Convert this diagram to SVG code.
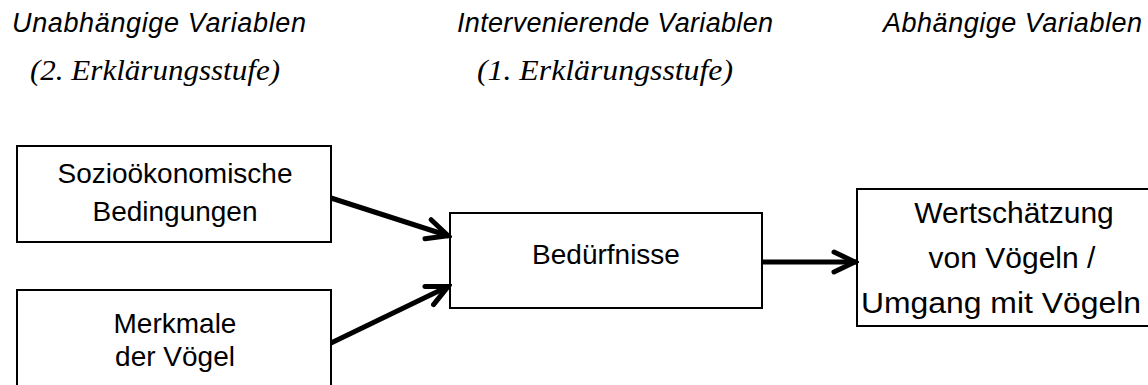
<svg xmlns="http://www.w3.org/2000/svg" width="1148" height="385" viewBox="0 0 1148 385">
<style>
.hdr{font-family:"Liberation Sans",Arial,sans-serif;font-style:italic;font-size:27px;fill:#000}
.sub{font-family:"Liberation Serif","Times New Roman",serif;font-style:italic;font-size:30px;fill:#000}
.box{fill:#fff;stroke:#000;stroke-width:2}
.lbl{font-family:"Liberation Sans",Arial,sans-serif;font-size:28px;fill:#000;text-anchor:middle}
.lbl2{font-family:"Liberation Sans",Arial,sans-serif;font-size:30px;fill:#000;text-anchor:middle}
.edge{stroke:#000;stroke-width:5;fill:none;marker-end:url(#arr)}
</style>
<defs>
<marker id="arr" markerUnits="userSpaceOnUse" viewBox="0 0 28 26" refX="25" refY="13" markerWidth="28" markerHeight="26" orient="auto">
<path d="M3,3 L24,13 L3,23" fill="none" stroke="#000" stroke-width="5" stroke-linecap="round" stroke-linejoin="miter"/>
</marker>
</defs>
<rect width="1148" height="385" fill="#fff"/>
<g id="headers">
<text class="hdr" x="12" y="32" textLength="294">Unabhängige Variablen</text>
<text class="sub" x="30" y="80" textLength="250" lengthAdjust="spacingAndGlyphs">(2. Erklärungsstufe)</text>
<text class="hdr" x="457" y="32" textLength="316">Intervenierende Variablen</text>
<text class="sub" x="477" y="80" textLength="256" lengthAdjust="spacingAndGlyphs">(1. Erklärungsstufe)</text>
<text class="hdr" x="883" y="32" textLength="259">Abhängige Variablen</text>
</g>
<g id="node-sozio">
<rect class="box" x="17" y="146" width="314" height="96"/>
<text class="lbl" x="175" y="183">Sozioökonomische</text>
<text class="lbl" x="175" y="221">Bedingungen</text>
</g>
<g id="node-merkmale">
<rect class="box" x="17" y="290" width="314" height="100"/>
<text class="lbl" x="175" y="333">Merkmale</text>
<text class="lbl" x="175" y="366">der Vögel</text>
</g>
<g id="node-beduerfnisse">
<rect class="box" x="450" y="213" width="312" height="95"/>
<text class="lbl" x="606" y="264">Bedürfnisse</text>
</g>
<g id="node-wertschaetzung">
<rect class="box" x="857" y="189" width="300" height="137"/>
<text class="lbl2" x="1014" y="223">Wertschätzung</text>
<text class="lbl2" x="1012" y="268">von Vögeln /</text>
<text class="lbl2" x="1001" y="313" textLength="280" lengthAdjust="spacingAndGlyphs">Umgang mit Vögeln</text>
</g>
<g id="connectors">
<line class="edge" x1="331" y1="198" x2="449" y2="236"/>
<line class="edge" x1="331" y1="343" x2="449" y2="286"/>
<line class="edge" x1="762" y1="262" x2="856" y2="262"/>
</g>
</svg>
